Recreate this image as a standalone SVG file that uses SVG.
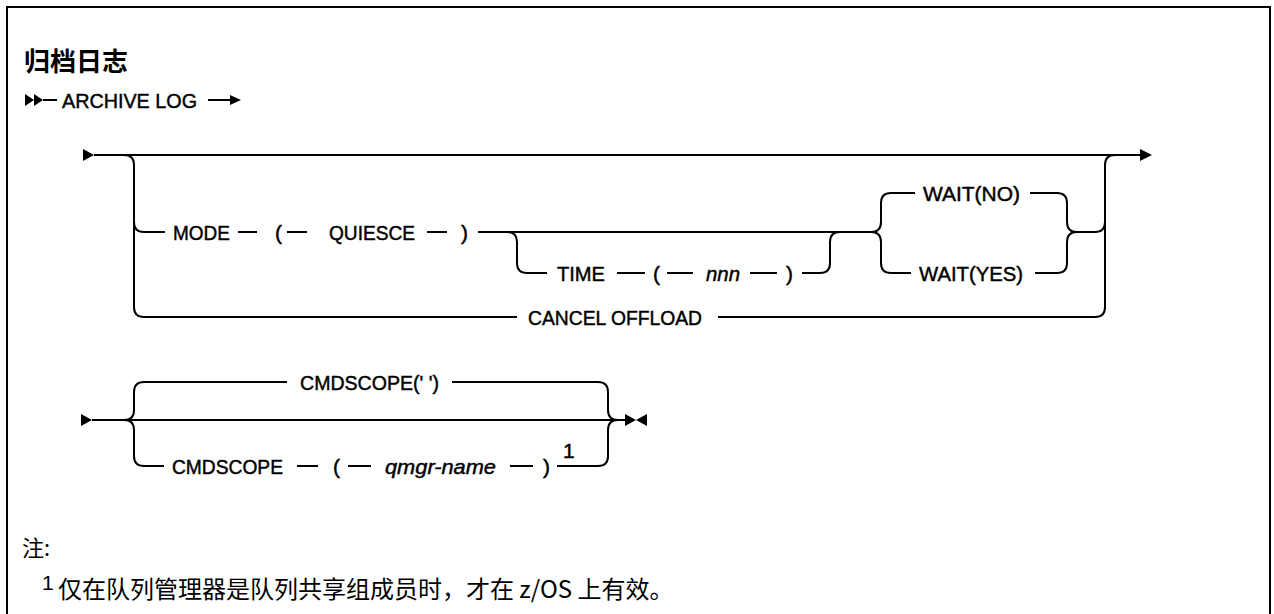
<svg xmlns="http://www.w3.org/2000/svg" width="1274" height="614" viewBox="0 0 1274 614">
<style>
.t{font-family:"Liberation Sans","Noto Sans",sans-serif;font-size:21px;fill:#000;stroke:#000;stroke-width:0.45}
.i{font-style:italic}
.cjk{font-family:"Noto Sans CJK SC",sans-serif;fill:#000}
.ln{fill:none;stroke:#000;stroke-width:2}
.ar{fill:#000}
</style>
<rect x="7" y="7" width="1263" height="630" fill="#fff" stroke="#000" stroke-width="2"/>
<g id="title"><text class="cjk" x="24" y="71" font-size="26" font-weight="bold">归档日志</text></g>
<g id="connectors">
<path class="ln" d="M43,100H57 M208,100H232"/>
<polygon class="ar" points="25,94 34,100 25,106"/>
<polygon class="ar" points="34,94 43,100 34,106"/>
<polygon class="ar" points="230,95 241,100 230,105"/>
<polygon class="ar" points="83,149 94,155 83,161"/>
<path class="ln" d="M94,155H1140"/>
<polygon class="ar" points="1140,149 1152,155 1140,161"/>
<path class="ln" d="M124,155Q134,155 134,165V307Q134,317 144,317H517 M718,317H1095Q1105,317 1105,307V165Q1105,155 1115,155"/>
<path class="ln" d="M134,222Q134,232 144,232H165 M238,232H257 M287,232H307 M427,232H447 M478,232H871 M1077,232H1095Q1105,232 1105,222"/>
<path class="ln" d="M507,232Q517,232 517,242V263Q517,273 527,273H547 M617,273H645 M667,273H693 M750,273H777 M802,273H820Q830,273 830,263V242Q830,232 840,232"/>
<path class="ln" d="M871,232Q881,232 881,222V203Q881,193 891,193H915 M1030,193H1057Q1067,193 1067,203V222Q1067,232 1077,232"/>
<path class="ln" d="M871,232Q881,232 881,242V263Q881,273 891,273H911 M1035,273H1057Q1067,273 1067,263V242Q1067,232 1077,232"/>
<polygon class="ar" points="81,414 92,420 81,426"/>
<path class="ln" d="M92,420H625"/>
<polygon class="ar" points="625,414 636,420 625,426"/>
<polygon class="ar" points="647,414 636,420 647,426"/>
<path class="ln" d="M124,420Q134,420 134,410V392Q134,382 144,382H287 M452,382H598Q608,382 608,392V410Q608,420 618,420"/>
<path class="ln" d="M124,420Q134,420 134,430V456Q134,466 144,466H164 M297,466H318 M348,466H371 M510,466H533 M557,466H598Q608,466 608,456V430Q608,420 618,420"/>
</g>
<g id="archive"><text class="t" x="62" y="107.5" textLength="135" lengthAdjust="spacingAndGlyphs">ARCHIVE LOG</text></g>
<g id="mode">
<text class="t" x="173" y="239.5" textLength="57" lengthAdjust="spacingAndGlyphs">MODE</text>
<text class="t" x="275" y="239.5">(</text>
<text class="t" x="329" y="239.5" textLength="86" lengthAdjust="spacingAndGlyphs">QUIESCE</text>
<text class="t" x="461" y="239.5">)</text>
</g>
<g id="time">
<text class="t" x="557" y="280.5" textLength="48" lengthAdjust="spacingAndGlyphs">TIME</text>
<text class="t" x="653" y="280.5">(</text>
<text class="t i" x="706" y="280.5" textLength="34" lengthAdjust="spacingAndGlyphs">nnn</text>
<text class="t" x="786" y="280.5">)</text>
</g>
<g id="waitno"><text class="t" x="923" y="200.5" textLength="97" lengthAdjust="spacingAndGlyphs">WAIT(NO)</text></g>
<g id="waityes"><text class="t" x="919" y="280.5" textLength="104" lengthAdjust="spacingAndGlyphs">WAIT(YES)</text></g>
<g id="cancel"><text class="t" x="528" y="324.5" textLength="174" lengthAdjust="spacingAndGlyphs">CANCEL OFFLOAD</text></g>
<g id="cmdscope-default"><text class="t" x="300" y="389.5" textLength="139" lengthAdjust="spacingAndGlyphs">CMDSCOPE(' ')</text></g>
<g id="cmdscope-qmgr">
<text class="t" x="172" y="473.5" textLength="111" lengthAdjust="spacingAndGlyphs">CMDSCOPE</text>
<text class="t" x="333" y="473.5">(</text>
<text class="t i" x="385" y="473.5" textLength="111" lengthAdjust="spacingAndGlyphs">qmgr-name</text>
<text class="t" x="543" y="473.5">)</text>
<text class="t" x="563" y="458" font-size="17">1</text>
</g>
<g id="notes">
<text class="cjk" x="22" y="556" font-size="22">注:</text>
<text class="t" x="42" y="590" font-size="17" style="stroke-width:0">1</text>
<text class="cjk" x="58" y="598" font-size="24">仅在队列管理器是队列共享组成员时，才在 z/OS 上有效。</text>
</g>
</svg>
